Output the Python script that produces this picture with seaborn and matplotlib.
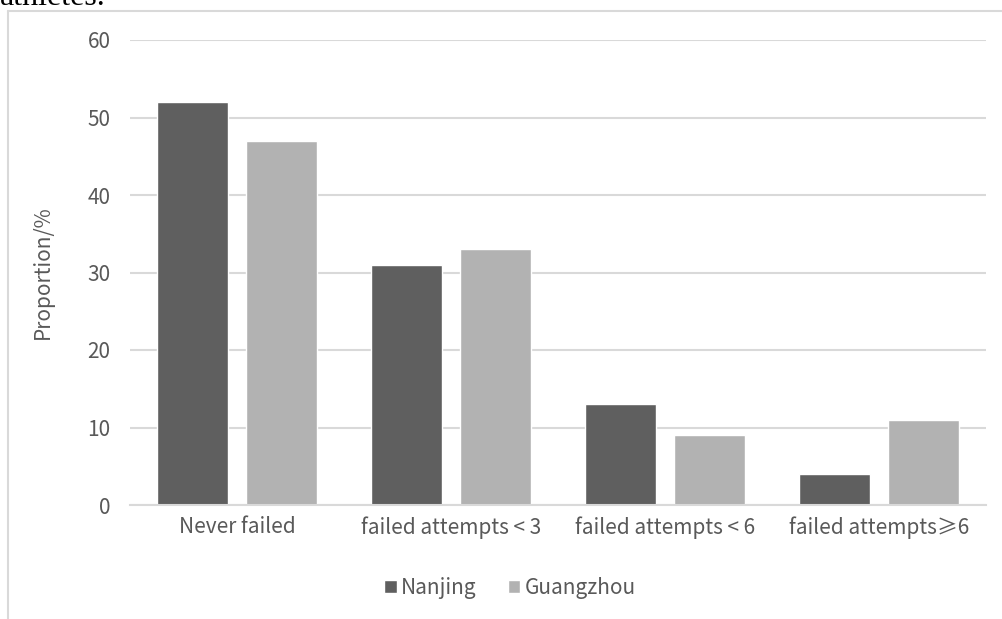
import seaborn as sns
import matplotlib.pyplot as plt
import pandas as pd
from matplotlib.lines import Line2D
from matplotlib.patches import Patch

# values
categories = ["Never failed", "failed attempts < 3", "failed attempts < 6", "failed attempts\u22656"]
nanjing = [52, 31, 13, 4]
guangzhou = [47, 33, 9, 11]
cities = ["Nanjing", "Guangzhou"]
colors = ["#5f5f5f", "#b2b2b2"]

df = pd.DataFrame({
    "category": categories * 2,
    "city": [cities[0]] * 4 + [cities[1]] * 4,
    "value": nanjing + guangzhou,
})

sns.set_style("white")
plt.rcParams["font.family"] = ["Noto Sans CJK SC", "DejaVu Sans"]
plt.rcParams["font.weight"] = "light"
text_col = "#595959"
grid_col = "#d9d9d9"
fs = 15

fig = plt.figure(figsize=(10.03, 6.19), dpi=100)
ax = fig.add_axes([130 / 1003, 1 - 505 / 619, 856 / 1003, 465 / 619])

sns.barplot(data=df, x="category", y="value", hue="city", palette=colors,
            width=0.83, gap=0.2, ax=ax, legend=False, saturation=1)

ax.set_ylim(0, 60)
ax.set_yticks(range(0, 61, 10))
ax.set_xlim(-0.5, 3.5)
ax.yaxis.grid(True, color=grid_col, linewidth=1.5)
ax.set_axisbelow(True)
for s in ["top", "right", "left"]:
    ax.spines[s].set_visible(False)
ax.spines["bottom"].set_color(grid_col)
ax.spines["bottom"].set_linewidth(1.5)
ax.tick_params(axis="y", length=0, pad=14, labelsize=fs, labelcolor=text_col)
ax.tick_params(axis="x", length=0, pad=8, labelsize=fs, labelcolor=text_col)
ax.set_xlabel("")
ax.set_ylabel("Proportion/%", fontsize=fs, color=text_col, labelpad=24)

handles = [Patch(facecolor=c, label=n) for c, n in zip(colors, cities)]
fig.legend(handles=handles, loc="center", bbox_to_anchor=(510 / 1003, 1 - 588 / 619),
           ncol=2, frameon=False, fontsize=fs, labelcolor=text_col,
           handlelength=0.6, handleheight=0.6, handletextpad=0.2, columnspacing=1.5)

# outer frame and cut-off caption from the source document
fig.add_artist(Line2D([8.5 / 1003, 8.5 / 1003], [0, 1 - 10.5 / 619], color=grid_col, lw=1.5))
fig.add_artist(Line2D([8.5 / 1003, 1], [1 - 10.5 / 619, 1 - 10.5 / 619], color=grid_col, lw=1.5))
fig.text(0.0, 1 - 5 / 619, "athletes.", family="Liberation Serif", fontsize=23,
         fontweight="normal", va="baseline", ha="left", color="black")

plt.savefig("out.png", dpi=100)
